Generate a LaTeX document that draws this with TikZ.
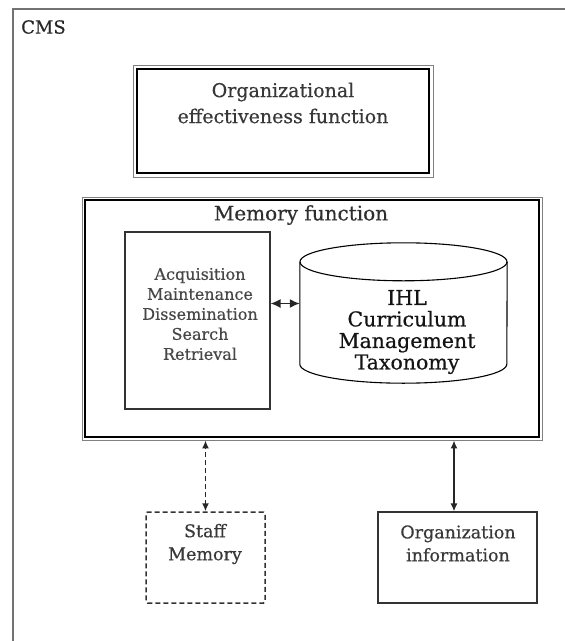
\documentclass[tikz,border=0pt]{standalone}
\usepackage{fontspec}
\setmainfont{DejaVu Serif}[FakeBold=0.5]
\usetikzlibrary{arrows.meta}
\newcommand{\fs}[2]{\fontsize{#1}{#2}\selectfont}

\begin{document}
\begin{tikzpicture}[x=1pt, y=-1pt,
  every node/.style={inner sep=0pt, align=center, text=black!78},
  innerframe/.style={draw=black, line width=2pt},
  outerframe/.style={draw=black!50, line width=0.9pt},
  box/.style={draw=black!80, line width=1.1pt},
  dashbox/.style={draw=black!80, line width=1.5pt, dash pattern=on 5pt off 3pt, rounded corners=1.5pt},
  link/.style={draw=black!85, line width=1.5pt, {Latex[length=8pt,width=7pt]}-{Latex[length=8pt,width=7pt]}},
  tip/.style={draw=black!85, line width=1.5pt, solid, -{Latex[length=8pt,width=7pt]}}]

\useasboundingbox (0,0) rectangle (565,641);

% CMS frame, runs past the page on the right and at the bottom
\draw[black!55, line width=1.6pt] (565,9) -- (13,9) -- (13,641);
\node[anchor=north west, font=\fs{18}{20}, text=black!85] (cms) at (21,20) {CMS};

% organizational effectiveness
\node[outerframe, minimum width=300, minimum height=112] (oefout) at (283,121) {};
\node[innerframe, minimum width=292, minimum height=104] (oef) at (283,121) {};
\node[font=\fs{19}{26}] (oeftxt) at (283,103) {Organizational\\effectiveness function};

% memory function
\node[outerframe, minimum width=460, minimum height=243] (memout) at (312,318.5) {};
\node[innerframe, line width=2.4pt, minimum width=454, minimum height=237] (mem) at (312,318.5) {};
\node[font=\fs{20}{22}, text=black!82] (memtxt) at (301,215) {Memory function};

\node[box, minimum width=145, minimum height=177] (proc) at (197.5,320.5) {};
\node[font=\fs{16}{20}, text=black!72] (proctxt) at (200,314)
  {Acquisition\\Maintenance\\Dissemination\\Search\\Retrieval};

% the taxonomy store
\node[minimum width=207, minimum height=102] (db) at (403.5,313) {};
\draw[box, draw=black] (db.north west) -- (db.south west)
  arc[start angle=180, end angle=360, x radius=103.5pt, y radius=19pt]
  -- (db.north east);
\draw[box, draw=black] (db.north) ellipse[x radius=103.5pt, y radius=19pt];
\node[font=\fs{20.5}{21.5}, text=black!92] (dbtxt) at (407,332)
  {IHL\\Curriculum\\Management\\Taxonomy};

\coordinate (pl) at ([yshift=17pt]proc.east);
\draw[link, {Latex[length=10pt,width=9pt]}-{Latex[length=10pt,width=9pt]}] (pl) -- (pl -| db.west);

% outside sources
\node[dashbox, minimum width=119, minimum height=91] (staff) at (205.5,557.5) {};
\node[font=\fs{17.5}{23}] (stafftxt) at (205,544) {Staff\\Memory};
\node[box, minimum width=159, minimum height=91] (org) at (457.5,557.5) {};
\node[font=\fs{17.5}{23}] (orgtxt) at (458,543.5) {Organization\\information};

% dashed shaft, solid heads
\coordinate (sm) at (staff.north |- memout.south);
\draw[link, -, line width=1.8pt, dash pattern=on 5pt off 3pt, shorten <=6pt, shorten >=6pt] (staff.north) -- (sm);
\draw[tip] ([yshift=9pt]staff.north) -- (staff.north);
\draw[tip] ([yshift=-9pt]sm) -- (sm);
\draw[link] (org.north -| 454,0) -- (memout.south -| 454,0);
\end{tikzpicture}
\end{document}
